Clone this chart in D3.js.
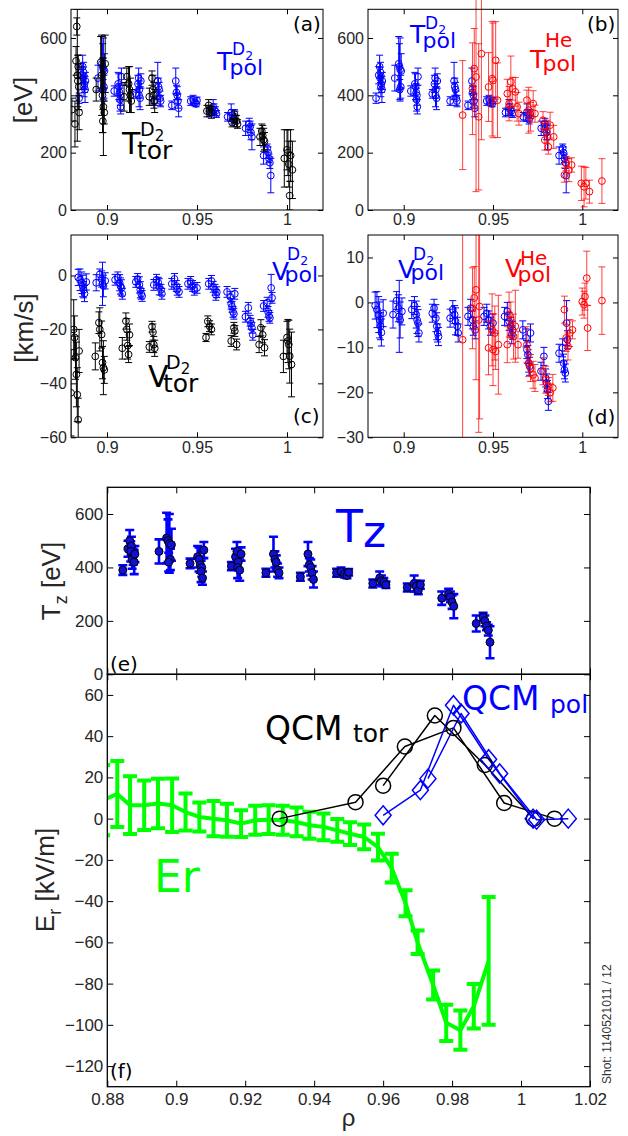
<!DOCTYPE html>
<html>
<head>
<meta charset="utf-8">
<script src="https://cdn.jsdelivr.net/npm/d3@7"></script>
<style>
  body { margin: 0; background: #fff; }
  svg { display: block; }
</style>
</head>
<body>
<svg id="fig" width="628" height="1136"></svg>
<script>
// ---------- data: [rho, value, error] ----------
// T_pol of D2 (blue in a, b and the Tz points in e)
var tpolD2 = [
  [0.8845,390,18],
  [0.8860,470,30],[0.8865,500,40],[0.8870,480,35],[0.8868,460,38],[0.8875,440,30],[0.8872,430,35],[0.8878,420,45],[0.8880,450,30],
  [0.8950,460,45],
  [0.8972,510,95],[0.8976,500,80],[0.8980,490,110],[0.8983,430,40],[0.8978,420,35],[0.8986,485,60],
  [0.9040,415,18],
  [0.9062,440,40],[0.9066,430,45],[0.9070,410,30],[0.9074,400,35],[0.9072,385,40],[0.9076,360,25],[0.9080,465,30],
  [0.9160,405,15],
  [0.9172,440,30],[0.9176,460,35],[0.9180,420,30],[0.9178,400,40],[0.9184,390,40],[0.9188,450,25],
  [0.9260,380,15],
  [0.9282,450,65],[0.9286,430,30],[0.9290,420,25],[0.9294,390,25],[0.9298,380,20],
  [0.9360,365,15],
  [0.9382,450,45],[0.9386,410,25],[0.9390,400,30],[0.9394,380,25],[0.9398,355,30],
  [0.9465,380,15],[0.9478,385,15],[0.9488,375,12],[0.9495,370,10],[0.9500,382,12],
  [0.9570,340,15],[0.9590,360,25],[0.9595,350,20],[0.9602,345,15],[0.9608,335,12],
  [0.9670,325,15],[0.9690,340,30],[0.9696,330,20],[0.9702,315,15],[0.9708,335,15],
  [0.9770,285,25],[0.9790,300,20],[0.9795,290,20],[0.9800,270,25],[0.9805,255,45],
  [0.9870,190,30],[0.9890,215,15],[0.9895,200,20],[0.9900,180,15],[0.9905,165,20],[0.9910,120,60]
];
// T_tor of D2 (black in a)
var ttorD2 = [
  [0.8805,350,40],[0.8822,300,80],[0.8828,520,50],[0.8832,640,30],[0.8835,470,230],[0.8838,450,90],[0.8840,500,40],[0.8843,430,80],[0.8845,340,60],
  [0.8940,420,40],[0.8965,515,90],[0.8970,470,140],[0.8975,400,130],[0.8980,360,170],[0.8985,340,40],[0.8977,310,40],[0.8990,510,100],
  [0.9095,395,50],[0.9110,465,30],[0.9120,440,60],[0.9125,420,80],[0.9130,400,60],[0.9135,380,40],
  [0.9235,395,30],[0.9250,460,25],[0.9255,420,50],[0.9260,400,45],[0.9265,380,40],
  [0.9555,345,20],[0.9565,365,20],[0.9570,350,15],[0.9580,340,20],
  [0.9695,305,15],[0.9710,325,20],[0.9720,310,20],[0.9725,300,15],
  [0.9850,255,30],[0.9860,275,25],[0.9865,260,35],[0.9870,245,40],[0.9875,240,30],
  [0.9985,180,100],[1.0000,210,70],[1.0005,200,80],[1.0010,160,80],[1.0015,50,50],[1.0020,190,90],[1.0030,140,100]
];
// T_pol of He (red in b)
var tpolHe = [
  [0.9330,331,190],[0.9385,423,160],[0.9395,493,140],[0.9405,464,400],[0.9420,325,255],[0.9435,545,300],
  [0.9475,429,120],[0.9495,458,200],[0.9500,452,200],[0.9515,522,135],[0.9525,383,130],
  [0.9580,406,50],[0.9590,371,60],[0.9600,447,90],[0.9610,423,40],[0.9625,412,50],[0.9635,360,50],[0.9645,336,40],
  [0.9690,383,35],[0.9700,348,80],[0.9710,325,50],[0.9725,371,45],[0.9735,336,30],
  [0.9780,313,30],[0.9790,244,35],[0.9800,273,40],[0.9810,220,25],[0.9820,296,45],[0.9840,255,40],
  [0.9900,122,25],[0.9910,162,25],[0.9925,139,40],[0.9940,157,25],
  [0.9995,93,60],[1.0010,81,70],[1.0020,93,55],[1.0040,64,40],[1.0110,101,78]
];
// V_pol of D2 (blue in c, d)
var vpolD2 = [
  [0.8840,-0.7,3],[0.8850,-1.6,4],[0.8860,-2.7,4],[0.8865,-3.9,4],[0.8870,-5.3,3],[0.8875,-6.7,3],[0.8885,-2.4,3],
  [0.8940,-2.7,3],[0.8960,0.4,2],[0.8970,-1.3,3],[0.8975,-3.1,8],[0.8980,-3.9,4],[0.8990,-2.0,3],
  [0.9045,-1.6,2],[0.9060,-0.7,2],[0.9070,-2.7,3],[0.9075,-3.9,3],[0.9080,-4.6,3],[0.9085,-6.8,2],
  [0.9160,-2.4,2],[0.9170,-1.3,2],[0.9180,-3.5,3],[0.9185,-5.3,3],[0.9190,-6.8,2],[0.9195,-7.6,2],
  [0.9260,-3.5,2],[0.9275,-1.6,2],[0.9285,-2.7,2],[0.9290,-4.2,3],[0.9300,-5.3,2],[0.9305,-6.8,2],
  [0.9360,-3.1,2],[0.9375,-1.3,2],[0.9385,-3.9,2],[0.9390,-5.3,2],[0.9400,-6.1,2],
  [0.9450,-3.1,2],[0.9465,-2.4,2],[0.9475,-3.9,2],[0.9485,-5.3,2],[0.9500,-4.6,2],
  [0.9565,-3.1,2],[0.9580,-2.0,2],[0.9590,-4.2,2],[0.9600,-5.3,2],[0.9605,-7.2,2],[0.9610,-6.2,2],
  [0.9667,-6.1,2],[0.9685,-7.9,2],[0.9690,-10.5,2],[0.9695,-11.6,2],[0.9700,-13.5,2],[0.9705,-14.2,2],[0.9710,-6.8,2],
  [0.9769,-15.3,2],[0.9785,-12.0,2],[0.9795,-16.8,2],[0.9800,-17.9,2],[0.9805,-19.4,2],[0.9810,-22.0,2],
  [0.9870,-11.3,2],[0.9890,-10.1,2],[0.9895,-13.5,2],[0.9900,-15.0,2],[0.9905,-15.7,2],[0.9912,-4.6,5],[0.9917,-8.3,2]
];
// V_tor of D2 (black in c)
var vtorD2 = [
  [0.8800,-43.5,16],[0.8815,-20,11],[0.8820,-23,8],[0.8825,-30.5,8],[0.8830,-36.7,12],[0.8835,-44.2,10],[0.8840,-53.5,8],[0.8845,-28,8],
  [0.8935,-30,5],[0.8955,-17.5,4],[0.8960,-20,8],[0.8970,-21.9,5],[0.8975,-32.3,6],[0.8980,-34.2,10],[0.8985,-35,5],
  [0.9085,-27,4],[0.9105,-16.9,3],[0.9110,-20,4],[0.9115,-26,5],[0.9120,-29.3,3],[0.9125,-22,4],
  [0.9235,-26.5,2],[0.9250,-19,2],[0.9255,-21,3],[0.9260,-25.6,3],[0.9265,-27,3],
  [0.9550,-23,1.5],[0.9560,-17,2],[0.9570,-18.8,2],[0.9580,-20,2],
  [0.9690,-24.3,2],[0.9705,-19.4,2],[0.9710,-20.6,2],[0.9720,-25.6,2],
  [0.9845,-25.6,3],[0.9855,-19.4,3],[0.9865,-22,3],[0.9875,-26.8,3],
  [0.9980,-30,6],[1.0000,-23,6],[1.0005,-24.3,8],[1.0010,-25.6,9],[1.0015,-29.9,10],[1.0025,-33,12]
];
// V_pol of He (red in d)
var vpolHe = [
  [0.9330,-8.3,60],
  [0.9385,-1.3,9],[0.9395,1.0,7],[0.9405,2.8,20],[0.9420,-3.9,25],[0.9425,-0.9,25],
  [0.9475,-10.1,6],[0.9495,-6.1,8],[0.9500,-10.5,8],[0.9510,-6.8,6],[0.9515,-10.9,4],[0.9530,-9.4,11],
  [0.9580,-9.4,4],[0.9590,-2.7,5],[0.9600,-3.9,4],[0.9615,-7.6,5],[0.9625,-5.3,8],[0.9640,-9.4,3],
  [0.9690,-9.4,4],[0.9700,-13.5,3],[0.9710,-14.6,3],[0.9725,-16.1,3],[0.9735,-16.8,3],
  [0.9780,-15.3,3],[0.9795,-17.2,3],[0.9810,-18.7,2],[0.9820,-20.1,2],[0.9835,-19.0,3],
  [0.9900,-1.6,3],[0.9910,-7.9,3],[0.9920,-9.8,3],[0.9930,-6.8,3],[0.9945,-6.1,2],
  [1.0000,0.2,3],[1.0010,-0.5,3],[1.0015,1.3,3],[1.0025,5.4,6],[1.0030,-5.7,5],
  [1.0110,0.4,7.5]
];
// E_r profile (green in f)
var er = [
  [0.8788,9,17],[0.8829,12,16],[0.8866,6.5,14],[0.8907,6.5,12],[0.8947,7.3,12],[0.8988,6.5,13],
  [0.9027,3.2,9],[0.9067,0.8,7],[0.9108,0,8.5],[0.9147,-0.8,8],[0.9188,-2.4,6.5],[0.9229,-0.8,7],
  [0.9268,-0.5,7],[0.9309,-0.8,7],[0.9349,-1.6,7],[0.9386,-3.2,6.5],[0.9427,-4,6.5],[0.9467,-5.7,5.5],
  [0.9504,-7.3,5.5],[0.9545,-8.9,6],[0.9585,-13.8,6.5],[0.9625,-24,7],[0.9665,-41,6.3],[0.9700,-60,5.7],
  [0.9745,-80.7,7],[0.9783,-99,8.8],[0.9824,-102.6,9.5],[0.9863,-91,10.8],[0.9906,-69,31]
];
// QCM phase velocity points (f)
var qcmTor1 = [[0.930,0],[0.952,8],[0.9663,35],[0.9804,44],[0.9951,7.6],[1.0097,0]];
var qcmTor2 = [[0.960,16],[0.975,50],[0.9895,26],[1.0037,0]];
var qcmPol1 = [[0.960,1.6],[0.9708,13.8],[0.9804,55],[0.9906,28.8],[1.0035,0]];
var qcmPol2 = [[0.973,19.4],[0.9826,51],[0.9938,21.9],[1.0045,-0.5],[1.0137,0]];

// ticks
var xTicksTop = [0.9, 0.95, 1];
var xTicksBottom = [0.88, 0.9, 0.92, 0.94, 0.96, 0.98, 1, 1.02];
var yTicksT = [0, 200, 400, 600];
var yTicksVc = [-60, -40, -20, 0];
var yTicksVd = [-30, -20, -10, 0, 10];
var yTicksEr = [-120, -100, -80, -60, -40, -20, 0, 20, 40, 60];

var BLUE = "#0000ff", RED = "#ff0000", GREEN = "#00ff00";
var svg = d3.select("#fig");

function fmt(t) { return String(+t.toFixed(2)).replace("-", "\u2212"); }

////////////////////////////////////////////////////////////////////////////////
function panel(id, box, xd, yd, xt, yt, opt) {
  var x = d3.scaleLinear().domain(xd).range([box.l, box.r]);
  var y = d3.scaleLinear().domain(yd).range([box.b, box.t]);
  var g = svg.append("g").attr("id", id);
  var ct = opt.clipTop != null ? opt.clipTop : box.t;
  svg.append("clipPath").attr("id", "clip-" + id).append("rect")
     .attr("x", box.l).attr("y", ct).attr("width", box.r - box.l).attr("height", box.b - ct);
  var tl = opt.tick, fs = opt.fs;
  // axes, ticks pointing inward on all four sides
  var ax = g.append("g").attr("class", "axes");
  ax.append("g").attr("transform", "translate(" + box.l + ",0)")
    .call(d3.axisLeft(y).tickValues(yt).tickSize(-tl).tickPadding(4).tickFormat(fmt));
  ax.append("g").attr("transform", "translate(" + box.r + ",0)")
    .call(d3.axisRight(y).tickValues(yt).tickSize(-tl).tickFormat(""));
  ax.append("g").attr("transform", "translate(0," + box.t + ")")
    .call(d3.axisTop(x).tickValues(xt).tickSize(-tl).tickFormat(""));
  ax.append("g").attr("transform", "translate(0," + box.b + ")")
    .call(d3.axisBottom(x).tickValues(xt).tickSize(-tl).tickPadding(opt.xpad || 4)
    .tickFormat(opt.noXLabels ? "" : fmt));
  ax.selectAll(".domain").remove();
  ax.selectAll(".tick line").attr("stroke", "#000").attr("stroke-width", 1);
  ax.selectAll(".tick text").attr("fill", "#262626")
    .style("font-family", "'Liberation Sans', Arial, sans-serif").style("font-size", fs + "px");
  var data = g.append("g").attr("clip-path", "url(#clip-" + id + ")");
  g.append("rect").attr("x", box.l).attr("y", box.t)
   .attr("width", box.r - box.l).attr("height", box.b - box.t)
   .attr("fill", "none").attr("stroke", "#000").attr("stroke-width", opt.lw || 1);
  return { x: x, y: y, g: g, data: data };
} // end panel

function errorbars(p, arr, color, w, cap, op) {
  p.data.append("g").selectAll("path").data(arr).enter().append("path")
   .attr("d", function(d) {
     var xx = p.x(d[0]), hi = p.y(d[1] + d[2]), lo = p.y(d[1] - d[2]);
     return "M" + xx + "," + hi + "V" + lo +
            "M" + (xx - cap / 2) + "," + hi + "h" + cap +
            "M" + (xx - cap / 2) + "," + lo + "h" + cap;
   })
   .attr("fill", "none").attr("stroke", color).attr("stroke-width", w)
   .attr("stroke-opacity", op == null ? 1 : op);
}

function circles(p, arr, stroke, fill, r, w) {
  p.data.append("g").selectAll("circle").data(arr).enter().append("circle")
   .attr("cx", function(d) { return p.x(d[0]); })
   .attr("cy", function(d) { return p.y(d[1]); })
   .attr("r", r).attr("fill", fill).attr("stroke", stroke).attr("stroke-width", w);
}

function polyline(p, arr, color, w) {
  var line = d3.line().x(function(d) { return p.x(d[0]); }).y(function(d) { return p.y(d[1]); });
  p.data.append("path").datum(arr).attr("d", line)
   .attr("fill", "none").attr("stroke", color).attr("stroke-width", w).attr("stroke-linejoin", "round");
}

// symbol like T^{D_2}_{pol}, one text element with positioned tspans
function sym(s) {
  var F = s.F;
  var t = svg.append("text").attr("fill", s.color).style("font-family", "'DejaVu Sans', sans-serif");
  t.append("tspan").attr("x", s.x).attr("y", s.y).attr("font-size", F).text(s.main);
  t.append("tspan").attr("x", s.x + 0.6 * F).attr("y", s.y + s.supDy)
   .attr("font-size", s.supSize).text(s.sup);
  if (s.sup2) {
    t.append("tspan").attr("x", s.x + 0.6 * F + s.supSize * 0.78).attr("y", s.y + s.supDy + 0.18 * F)
     .attr("font-size", 0.5 * F).text(s.sup2);
  }
  t.append("tspan").attr("x", s.x + 0.5 * F).attr("y", s.y + s.subDy)
   .attr("font-size", s.subSize).text(s.sub);
}

function tag(x, y, txt, size) {
  svg.append("text").attr("x", x).attr("y", y).text(txt)
     .style("font-family", "'DejaVu Sans', sans-serif").style("font-size", (size || 20) + "px")
     .attr("fill", "#000");
}

function ylabel(x, y, parts) {
  var t = svg.append("text").attr("transform", "translate(" + x + "," + y + ") rotate(-90)")
     .attr("text-anchor", "middle").attr("fill", "#262626")
     .style("font-family", "'Liberation Sans', Arial, sans-serif").style("font-size", "26px");
  parts.forEach(function(pt) {
    var ts = t.append("tspan").text(pt.t);
    if (pt.size) ts.style("font-size", pt.size + "px");
    if (pt.dy) ts.attr("dy", pt.dy);
  });
}

////////////////////////////////////////////////////////////////////////////////
function setup() {
  var smallOpt = { tick: 5, fs: 16, lw: 1 };
  // (a) temperatures, D2 toroidal and poloidal
  var pa = panel("a", { l: 71, r: 323, t: 9.3, b: 210 }, [0.88, 1.02], [0, 700], xTicksTop, yTicksT, smallOpt);
  errorbars(pa, tpolD2, BLUE, 1, 7);
  circles(pa, tpolD2, BLUE, "none", 3.4, 1);
  errorbars(pa, ttorD2, "#000", 1, 7);
  circles(pa, ttorD2, "#000", "none", 3.4, 1);

  // (b) temperatures, D2 and He poloidal
  var pb = panel("b", { l: 368, r: 618, t: 9.3, b: 210 }, [0.88, 1.02], [0, 700], xTicksTop, yTicksT,
                 { tick: 5, fs: 16, lw: 1, clipTop: 0 });
  errorbars(pb, tpolD2, BLUE, 1, 7);
  circles(pb, tpolD2, BLUE, "none", 3.4, 1);
  errorbars(pb, tpolHe, RED, 1, 7, 0.75);
  circles(pb, tpolHe, RED, "none", 3.4, 1);

  // (c) velocities, D2
  var pc = panel("c", { l: 71, r: 323, t: 235, b: 437.3 }, [0.88, 1.02], [-60, 15], xTicksTop, yTicksVc, smallOpt);
  errorbars(pc, vpolD2, BLUE, 1, 7);
  circles(pc, vpolD2, BLUE, "none", 3.4, 1);
  errorbars(pc, vtorD2, "#000", 1, 7);
  circles(pc, vtorD2, "#000", "none", 3.4, 1);

  // (d) velocities, D2 and He poloidal
  var pd = panel("d", { l: 368, r: 618, t: 235, b: 437.3 }, [0.88, 1.02], [-30, 15], xTicksTop, yTicksVd, smallOpt);
  errorbars(pd, vpolD2, BLUE, 1, 7);
  circles(pd, vpolD2, BLUE, "none", 3.4, 1);
  errorbars(pd, vpolHe, RED, 1, 7, 0.75);
  circles(pd, vpolHe, RED, "none", 3.4, 1);

  // (e) impurity temperature
  var pe = panel("e", { l: 107.3, r: 590, t: 487.3, b: 674.3 }, [0.88, 1.02], [0, 700], xTicksBottom, yTicksT,
                 { tick: 6, fs: 17, lw: 1.3, noXLabels: true });
  errorbars(pe, tpolD2, BLUE, 2.6, 9);
  circles(pe, tpolD2, "#000", "#1010d8", 4, 1);

  // (f) radial electric field and QCM
  var pf = panel("f", { l: 107.3, r: 590, t: 674.3, b: 1086.7 }, [0.88, 1.02], [-130, 70], xTicksBottom, yTicksEr,
                 { tick: 6, fs: 17, lw: 1.3, xpad: 6 });
  polyline(pf, er, GREEN, 4);
  errorbars(pf, er, GREEN, 4, 14);
  polyline(pf, qcmTor1, "#000", 1.5);
  polyline(pf, qcmTor2, "#000", 1.5);
  polyline(pf, qcmPol1, BLUE, 1.5);
  polyline(pf, qcmPol2, BLUE, 1.5);
  circles(pf, qcmTor1.concat(qcmTor2), "#000", "none", 7.5, 1.5);
  pf.data.append("g").selectAll("path").data(qcmPol1.concat(qcmPol2)).enter().append("path")
    .attr("d", function(d) {
      var cx = pf.x(d[0]), cy = pf.y(d[1]);
      return "M" + cx + "," + (cy - 9.5) + "L" + (cx + 8) + "," + cy + "L" + cx + "," + (cy + 9.5) + "L" + (cx - 8) + "," + cy + "Z";
    })
    .attr("fill", "none").attr("stroke", BLUE).attr("stroke-width", 1.5);

  // axis labels
  ylabel(32, 100, [{ t: "[eV]" }]);
  ylabel(33, 328, [{ t: "[km/s]" }]);
  ylabel(60, 581, [{ t: "T" }, { t: "z", size: 18, dy: 7 }, { t: " [eV]", dy: -7 }]);
  ylabel(54, 880, [{ t: "E" }, { t: "r", size: 18, dy: 7 }, { t: " [kV/m]", dy: -7 }]);
  svg.append("text").attr("x", 348.6).attr("y", 1126).attr("text-anchor", "middle").text("\u03c1")
     .attr("fill", "#262626").style("font-family", "'Liberation Sans', Arial, sans-serif").style("font-size", "24px");

  // panel tags
  tag(293, 31, "(a)");
  tag(587, 31, "(b)");
  tag(293, 423, "(c)");
  tag(587, 424, "(d)");
  tag(110, 671, "(e)");
  tag(110, 1078, "(f)");

  // symbols
  sym({ x: 217, y: 70, F: 25, main: "T", sup: "D", supDy: -15, supSize: 17, sup2: "2", sub: "pol", subDy: 5, subSize: 22, color: BLUE });
  sym({ x: 122, y: 154, F: 30, main: "T", sup: "D", supDy: -18, supSize: 19, sup2: "2", sub: "tor", subDy: 5, subSize: 25, color: "#000" });
  sym({ x: 410, y: 43, F: 25, main: "T", sup: "D", supDy: -14, supSize: 17, sup2: "2", sub: "pol", subDy: 5, subSize: 22, color: BLUE });
  sym({ x: 530, y: 68, F: 25, main: "T", sup: "He", supDy: -21, supSize: 20, sub: "pol", subDy: 3, subSize: 22, color: RED });
  sym({ x: 272, y: 280, F: 25, main: "V", sup: "D", supDy: -20, supSize: 17, sup2: "2", sub: "pol", subDy: 2, subSize: 22, color: BLUE });
  sym({ x: 148, y: 387, F: 30, main: "V", sup: "D", supDy: -18, supSize: 19, sup2: "2", sub: "tor", subDy: 5, subSize: 25, color: "#000" });
  sym({ x: 398, y: 278, F: 25, main: "V", sup: "D", supDy: -18, supSize: 17, sup2: "2", sub: "pol", subDy: 2, subSize: 22, color: BLUE });
  sym({ x: 505, y: 277, F: 25, main: "V", sup: "He", supDy: -12, supSize: 20, sub: "pol", subDy: 5, subSize: 22, color: RED });

  // big labels in e and f
  var big = svg.append("g").style("font-family", "'DejaVu Sans', sans-serif");
  var tz = big.append("text").attr("x", 336).attr("y", 542).attr("font-size", 44).attr("fill", BLUE);
  tz.append("tspan").text("T");
  tz.append("tspan").attr("dy", 5).text("z");
  big.append("text").attr("x", 154).attr("y", 892).attr("font-size", 44).attr("fill", GREEN).text("Er");
  var qt = big.append("text").attr("x", 265).attr("y", 740).attr("fill", "#000");
  qt.append("tspan").attr("font-size", 33).text("QCM ");
  qt.append("tspan").attr("font-size", 25).attr("dy", 2).text("tor");
  var qp = big.append("text").attr("x", 462).attr("y", 710).attr("fill", BLUE);
  qp.append("tspan").attr("font-size", 33).text("QCM ");
  qp.append("tspan").attr("font-size", 25).attr("dy", 3).text("pol");

  // shot number
  svg.append("text").attr("transform", "translate(611,1084) rotate(-90)")
     .attr("fill", "#333").style("font-family", "'Liberation Sans', Arial, sans-serif").style("font-size", "12px")
     .text("Shot: 1140521011 / 12");
} // end setup

setup();
</script>
</body>
</html>
